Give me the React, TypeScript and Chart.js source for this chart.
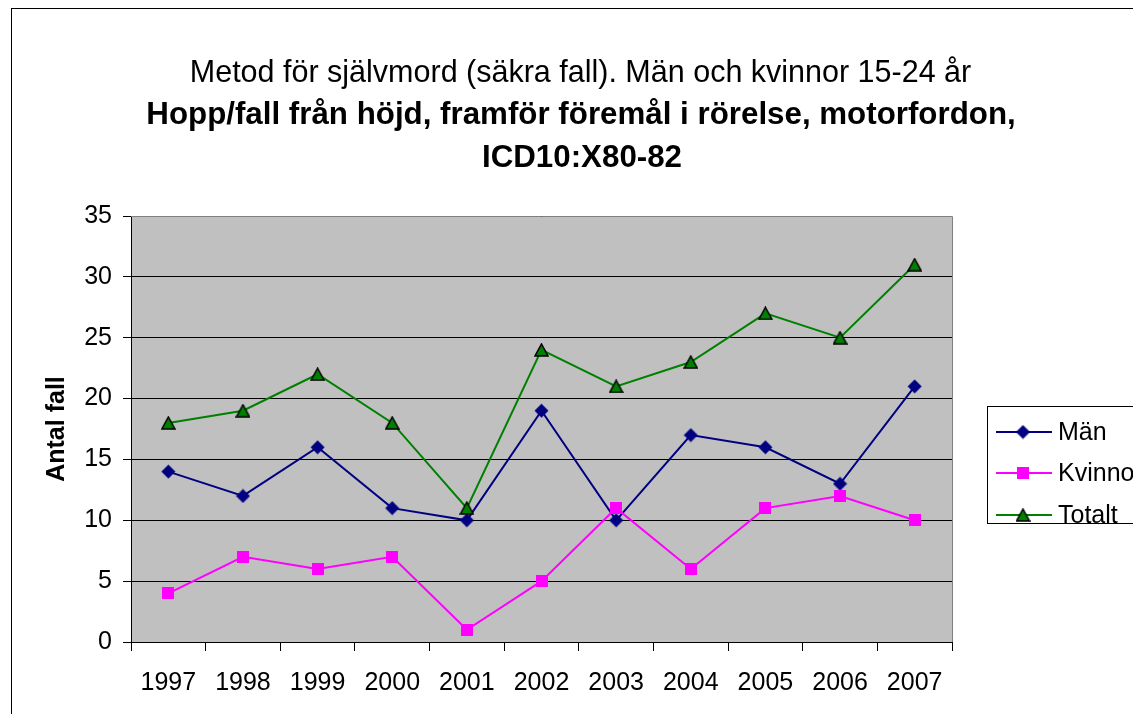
import React, { useEffect, useRef } from 'react';
import { Chart, registerables } from 'chart.js';

Chart.register(...registerables);

const years = ['1997', '1998', '1999', '2000', '2001', '2002', '2003', '2004', '2005', '2006', '2007'];
const manValues = [14, 12, 16, 11, 10, 19, 10, 17, 16, 13, 21];
const kvinnorValues = [4, 7, 6, 7, 1, 5, 11, 6, 11, 12, 10];
const totaltValues = [18, 19, 22, 18, 11, 24, 21, 23, 27, 25, 31];
const seriesLabels = ['Män', 'Kvinnor', 'Totalt'];
const yMin = 0;
const yMax = 35;
const yStep = 5;
const titleLines = [
  'Metod för självmord (säkra fall). Män och kvinnor 15-24 år',
  'Hopp/fall från höjd, framför föremål i rörelse, motorfordon,',
  'ICD10:X80-82',
];
const yAxisTitle = 'Antal fall';

const FONT = '"Liberation Sans", Arial, Helvetica, sans-serif';
const MAN_COLOR = '#000080';
const KVINNOR_COLOR = '#FF00FF';
const TOTALT_COLOR = '#008000';
const PLOT_BG = '#C0C0C0';

function makeMarker(kind: string, fill: string): HTMLCanvasElement {
  const c = document.createElement('canvas');
  if (kind === 'diamond') {
    c.width = 15; c.height = 15;
    const g = c.getContext('2d')!;
    g.fillStyle = fill;
    g.beginPath();
    g.moveTo(7.5, 0.5); g.lineTo(14.5, 7.5); g.lineTo(7.5, 14.5); g.lineTo(0.5, 7.5);
    g.closePath(); g.fill();
  } else if (kind === 'square') {
    c.width = 12; c.height = 12;
    const g = c.getContext('2d')!;
    g.fillStyle = fill;
    g.fillRect(0, 0, 12, 12);
  } else {
    c.width = 15; c.height = 14;
    const g = c.getContext('2d')!;
    g.fillStyle = fill;
    g.strokeStyle = '#000000';
    g.lineWidth = 1.5;
    g.beginPath();
    g.moveTo(7.5, 1); g.lineTo(14, 13); g.lineTo(1, 13);
    g.closePath(); g.fill(); g.stroke();
  }
  return c;
}

export default function App() {
  const ref = useRef<HTMLCanvasElement | null>(null);

  useEffect(() => {
    const canvas = ref.current;
    if (!canvas) return;

    const markers = [
      makeMarker('diamond', MAN_COLOR),
      makeMarker('square', KVINNOR_COLOR),
      makeMarker('triangle', TOTALT_COLOR),
    ];
    const colors = [MAN_COLOR, KVINNOR_COLOR, TOTALT_COLOR];

    const backgroundPlugin = {
      id: 'bg',
      beforeDraw(chart: any) {
        const { ctx, chartArea, width, height } = chart;
        ctx.save();
        ctx.fillStyle = '#ffffff';
        ctx.fillRect(0, 0, width, height);
        ctx.fillStyle = PLOT_BG;
        ctx.fillRect(chartArea.left, chartArea.top, chartArea.right - chartArea.left, chartArea.bottom - chartArea.top);
        ctx.strokeStyle = '#000000';
        ctx.lineWidth = 1;
        ctx.strokeRect(11.5, 8.5, width + 100, height + 100);
        ctx.restore();
      },
      beforeDatasetsDraw(chart: any) {
        const { ctx, chartArea } = chart;
        ctx.save();
        ctx.strokeStyle = '#808080';
        ctx.lineWidth = 1;
        ctx.beginPath();
        const t = Math.round(chartArea.top) + 0.5;
        const r = Math.round(chartArea.right) + 0.5;
        ctx.moveTo(chartArea.left, t);
        ctx.lineTo(r, t);
        ctx.lineTo(r, chartArea.bottom);
        ctx.stroke();
        ctx.restore();
      },
    };

    const titleLegendPlugin = {
      id: 'titleLegend',
      afterDraw(chart: any) {
        const { ctx } = chart;
        ctx.save();
        ctx.fillStyle = '#000000';
        ctx.textAlign = 'center';
        ctx.textBaseline = 'alphabetic';
        ctx.font = `normal 30.5px ${FONT}`;
        ctx.fillText(titleLines[0], 580.5, 82);
        ctx.font = `bold 31.3px ${FONT}`;
        ctx.fillText(titleLines[1], 581, 124);
        ctx.fillText(titleLines[2], 582, 167);

        // legend box
        ctx.strokeStyle = '#000000';
        ctx.lineWidth = 1;
        ctx.strokeRect(987.5, 406.5, 300, 117);
        const rowY = [432, 473, 515];
        chart.data.datasets.forEach((ds: any, i: number) => {
          const y = rowY[i];
          ctx.strokeStyle = colors[i];
          ctx.lineWidth = 2;
          ctx.beginPath();
          ctx.moveTo(996, y);
          ctx.lineTo(1052, y);
          ctx.stroke();
          const m = markers[i];
          ctx.drawImage(m, 1023 - m.width / 2, y - m.height / 2);
          ctx.fillStyle = '#000000';
          ctx.textAlign = 'left';
          ctx.textBaseline = 'middle';
          ctx.font = `normal 25px ${FONT}`;
          ctx.fillText(ds.label, 1058, y + 1);
        });
        ctx.restore();
      },
    };

    const chart = new Chart(canvas, {
      type: 'line',
      data: {
        labels: years,
        datasets: [
          {
            label: seriesLabels[0],
            data: manValues,
            borderColor: MAN_COLOR,
            backgroundColor: MAN_COLOR,
            borderWidth: 2,
            pointStyle: markers[0] as any,
            pointRadius: 7,
            tension: 0,
            order: 2,
          },
          {
            label: seriesLabels[1],
            data: kvinnorValues,
            borderColor: KVINNOR_COLOR,
            backgroundColor: KVINNOR_COLOR,
            borderWidth: 2,
            pointStyle: markers[1] as any,
            pointRadius: 7,
            tension: 0,
            order: 1,
          },
          {
            label: seriesLabels[2],
            data: totaltValues,
            borderColor: TOTALT_COLOR,
            backgroundColor: TOTALT_COLOR,
            borderWidth: 2,
            pointStyle: markers[2] as any,
            pointRadius: 7,
            tension: 0,
            order: 0,
          },
        ],
      },
      options: {
        responsive: false,
        animation: false,
        events: [],
        layout: { padding: { left: 31, top: 216, right: 181, bottom: 12 } },
        plugins: {
          legend: { display: false },
          title: { display: false },
          tooltip: { enabled: false },
        },
        scales: {
          x: {
            type: 'category',
            offset: true,
            grid: {
              offset: true,
              drawOnChartArea: false,
              drawTicks: true,
              tickLength: 9,
              color: '#000000',
              tickColor: '#000000',
            },
            border: { display: true, color: '#000000', width: 1 },
            ticks: {
              color: '#000000',
              font: { family: FONT, size: 25 },
              padding: 17,
              maxRotation: 0,
              autoSkip: false,
            },
            afterFit: (s: any) => { s.height = 60; },
          },
          y: {
            min: yMin,
            max: yMax,
            grid: {
              color: '#000000',
              tickColor: '#000000',
              tickLength: 8,
              drawTicks: true,
            },
            border: { display: true, color: '#000000', width: 1 },
            ticks: {
              stepSize: yStep,
              color: '#000000',
              font: { family: FONT, size: 25 },
              padding: 11,
            },
            title: {
              display: true,
              text: yAxisTitle,
              color: '#000000',
              font: { family: FONT, size: 25, weight: 'bold' },
              padding: { top: 11, bottom: 0 },
            },
            afterFit: (s: any) => { s.width = 100; },
          },
        },
      } as any,
      plugins: [backgroundPlugin, titleLegendPlugin],
    });

    return () => chart.destroy();
  }, []);

  return (
    <div style={{ position: 'fixed', left: 0, top: 0, width: 1133, height: 714, overflow: 'hidden', background: '#fff' }}>
      <canvas ref={ref} width={1133} height={714} style={{ display: 'block', width: 1133, height: 714 }} />
    </div>
  );
}
